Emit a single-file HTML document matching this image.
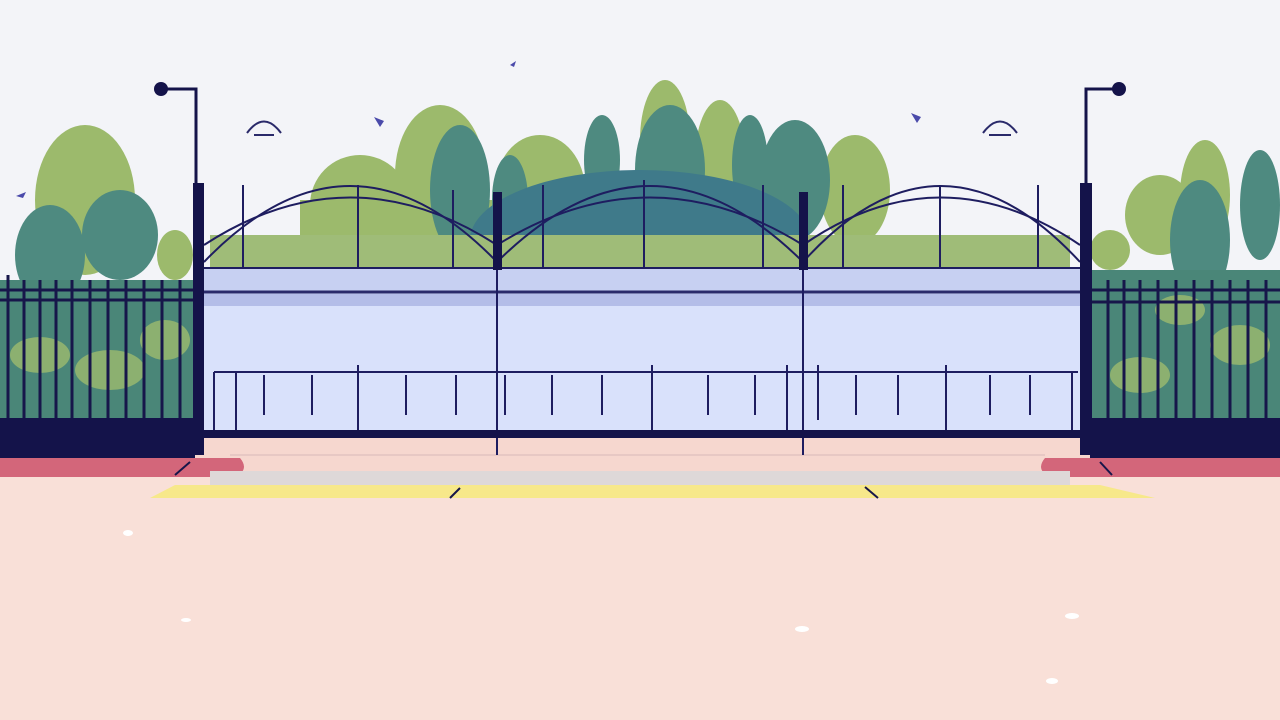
<!DOCTYPE html>
<html><head><meta charset="utf-8"><style>html,body{margin:0;padding:0;width:1280px;height:720px;overflow:hidden;background:#f3f4f8}</style></head>
<body>
<svg width="1280" height="720" viewBox="0 0 1280 720" xmlns="http://www.w3.org/2000/svg">
<rect width="1280" height="720" fill="#f3f4f8"/>
<g fill="#9cba6c">
<ellipse cx="85" cy="200" rx="50" ry="75"/>
<ellipse cx="440" cy="175" rx="45" ry="70"/>
<ellipse cx="360" cy="205" rx="50" ry="50"/>
<ellipse cx="540" cy="190" rx="45" ry="55"/>
<ellipse cx="665" cy="140" rx="25" ry="60"/>
<ellipse cx="720" cy="160" rx="25" ry="60"/>
<ellipse cx="855" cy="190" rx="35" ry="55"/>
<ellipse cx="1160" cy="215" rx="35" ry="40"/>
<ellipse cx="1205" cy="195" rx="25" ry="55"/>
<ellipse cx="1110" cy="250" rx="20" ry="20"/>
<ellipse cx="175" cy="255" rx="18" ry="25"/>
<rect x="300" y="200" width="500" height="70"/>
</g>
<g fill="#4e8a80">
<ellipse cx="50" cy="255" rx="35" ry="50"/>
<ellipse cx="120" cy="235" rx="38" ry="45"/>
<ellipse cx="460" cy="190" rx="30" ry="65"/>
<ellipse cx="510" cy="200" rx="18" ry="45"/>
<ellipse cx="602" cy="160" rx="18" ry="45"/>
<ellipse cx="670" cy="170" rx="35" ry="65"/>
<ellipse cx="750" cy="165" rx="18" ry="50"/>
<ellipse cx="795" cy="180" rx="35" ry="60"/>
<ellipse cx="1200" cy="240" rx="30" ry="60"/>
<ellipse cx="1260" cy="205" rx="20" ry="55"/>
</g>
<ellipse cx="640" cy="240" rx="170" ry="70" fill="#3f7a8a"/>
<rect x="210" y="235" width="860" height="35" fill="#9fbc78"/>
<rect x="0" y="280" width="195" height="140" fill="#4a8678"/>
<rect x="1092" y="270" width="188" height="150" fill="#4a8678"/>
<g fill="#8cb070">
<ellipse cx="40" cy="355" rx="30" ry="18"/><ellipse cx="110" cy="370" rx="35" ry="20"/><ellipse cx="165" cy="340" rx="25" ry="20"/>
<ellipse cx="1140" cy="375" rx="30" ry="18"/><ellipse cx="1240" cy="345" rx="30" ry="20"/><ellipse cx="1180" cy="310" rx="25" ry="15"/>
</g>
<g stroke="#17164a" stroke-width="3">
<line x1="0" y1="290" x2="195" y2="290"/><line x1="0" y1="300" x2="195" y2="300"/>
<line x1="1092" y1="290" x2="1280" y2="290"/><line x1="1092" y1="302" x2="1280" y2="302"/>
<line x1="8" y1="275" x2="8" y2="420"/><line x1="24" y1="280" x2="24" y2="420"/><line x1="40" y1="280" x2="40" y2="420"/><line x1="56" y1="280" x2="56" y2="420"/><line x1="72" y1="280" x2="72" y2="420"/><line x1="90" y1="280" x2="90" y2="420"/><line x1="108" y1="280" x2="108" y2="420"/><line x1="126" y1="280" x2="126" y2="420"/><line x1="144" y1="280" x2="144" y2="420"/><line x1="162" y1="280" x2="162" y2="420"/><line x1="180" y1="280" x2="180" y2="420"/>
<line x1="1108" y1="280" x2="1108" y2="420"/><line x1="1124" y1="280" x2="1124" y2="420"/><line x1="1140" y1="280" x2="1140" y2="420"/><line x1="1158" y1="280" x2="1158" y2="420"/><line x1="1176" y1="280" x2="1176" y2="420"/><line x1="1194" y1="280" x2="1194" y2="420"/><line x1="1212" y1="280" x2="1212" y2="420"/><line x1="1230" y1="280" x2="1230" y2="420"/><line x1="1248" y1="280" x2="1248" y2="420"/><line x1="1266" y1="280" x2="1266" y2="420"/>
</g>
<rect x="0" y="418" width="200" height="40" fill="#14134a"/>
<rect x="1088" y="418" width="192" height="40" fill="#14134a"/>
<rect x="0" y="470" width="1280" height="250" fill="#f9e0d8"/>
<rect x="195" y="438" width="895" height="34" fill="#f6d7cf"/>
<path d="M0 458 H240 Q250 470 235 477 H0Z" fill="#d3667a"/>
<path d="M1280 458 H1045 Q1035 470 1050 477 H1280Z" fill="#d3667a"/>
<line x1="230" y1="455" x2="1045" y2="455" stroke="#d8b8b8" stroke-width="1"/>
<rect x="210" y="471" width="860" height="14" fill="#ded8d8"/>
<path d="M150 498 L175 485 H1100 L1155 498Z" fill="#f7e88a"/>
<g stroke="#17164a" stroke-width="2"><line x1="450" y1="498" x2="460" y2="488"/><line x1="865" y1="487" x2="878" y2="498"/><line x1="175" y1="475" x2="190" y2="462"/><line x1="1100" y1="462" x2="1112" y2="475"/></g>
<rect x="204" y="268" width="876" height="170" fill="#d9e1fb"/>
<rect x="204" y="268" width="876" height="26" fill="#c7d0f2"/>
<rect x="204" y="294" width="876" height="12" fill="#b4bde8"/>
<line x1="204" y1="292" x2="1080" y2="292" stroke="#2a2a6a" stroke-width="3"/>
<g stroke="#1e1d60" stroke-width="2" fill="none">
<line x1="214" y1="372" x2="1078" y2="372"/>
<line x1="214" y1="372" x2="214" y2="430"/>
<line x1="236" y1="372" x2="236" y2="430"/><line x1="264" y1="375" x2="264" y2="415"/><line x1="312" y1="375" x2="312" y2="415"/><line x1="358" y1="365" x2="358" y2="430"/><line x1="406" y1="375" x2="406" y2="415"/><line x1="456" y1="375" x2="456" y2="415"/><line x1="505" y1="375" x2="505" y2="415"/><line x1="552" y1="375" x2="552" y2="415"/><line x1="602" y1="375" x2="602" y2="415"/><line x1="652" y1="365" x2="652" y2="430"/><line x1="708" y1="375" x2="708" y2="415"/><line x1="755" y1="375" x2="755" y2="415"/><line x1="787" y1="365" x2="787" y2="430"/><line x1="818" y1="365" x2="818" y2="420"/><line x1="856" y1="375" x2="856" y2="415"/><line x1="898" y1="375" x2="898" y2="415"/><line x1="946" y1="365" x2="946" y2="430"/><line x1="990" y1="375" x2="990" y2="415"/><line x1="1030" y1="375" x2="1030" y2="415"/><line x1="1072" y1="372" x2="1072" y2="430"/>
<line x1="497" y1="268" x2="497" y2="455"/><line x1="803" y1="268" x2="803" y2="455"/>
<path d="M204 262 Q350 110 497 262"/><path d="M204 245 Q350 150 497 245"/>
<path d="M497 262 Q650 110 803 262"/><path d="M497 245 Q650 150 803 245"/>
<path d="M803 262 Q940 110 1080 262"/><path d="M803 245 Q940 150 1080 245"/>
<line x1="243" y1="185" x2="243" y2="268"/><line x1="358" y1="185" x2="358" y2="268"/><line x1="453" y1="190" x2="453" y2="268"/>
<line x1="543" y1="185" x2="543" y2="268"/><line x1="644" y1="180" x2="644" y2="268"/><line x1="763" y1="185" x2="763" y2="268"/>
<line x1="843" y1="185" x2="843" y2="268"/><line x1="940" y1="185" x2="940" y2="268"/><line x1="1038" y1="185" x2="1038" y2="268"/>
<line x1="204" y1="268" x2="1080" y2="268"/>
</g>
<rect x="204" y="430" width="876" height="8" fill="#14134a"/>
<rect x="193" y="183" width="11" height="272" fill="#14134a"/>
<rect x="1080" y="183" width="12" height="272" fill="#14134a"/>
<rect x="493" y="192" width="9" height="78" fill="#14134a"/>
<rect x="799" y="192" width="9" height="78" fill="#14134a"/>
<g stroke="#14134a" stroke-width="3" fill="none"><path d="M196 183 V89 H165"/><path d="M1086 183 V89 H1115"/></g>
<circle cx="161" cy="89" r="7" fill="#14134a"/><circle cx="1119" cy="89" r="7" fill="#14134a"/>
<g stroke="#2a2a6a" stroke-width="2" fill="none"><path d="M247 133 Q264 110 281 133"/><path d="M254 135 H274"/><path d="M983 133 Q1000 110 1017 133"/><path d="M989 135 H1011"/></g>
<g fill="#4a4aaa"><path d="M374 117 l10 4 -4 6z"/><path d="M911 113 l10 4 -4 6z"/><path d="M510 65 l6 -4 -2 6z"/><path d="M16 196 l10 -4 -3 6z"/></g>
<g fill="#fff"><ellipse cx="802" cy="629" rx="7" ry="3"/><ellipse cx="1072" cy="616" rx="7" ry="3"/><ellipse cx="1052" cy="681" rx="6" ry="3"/><ellipse cx="128" cy="533" rx="5" ry="3"/><ellipse cx="186" cy="620" rx="5" ry="2"/></g>
</svg>
</body></html>
